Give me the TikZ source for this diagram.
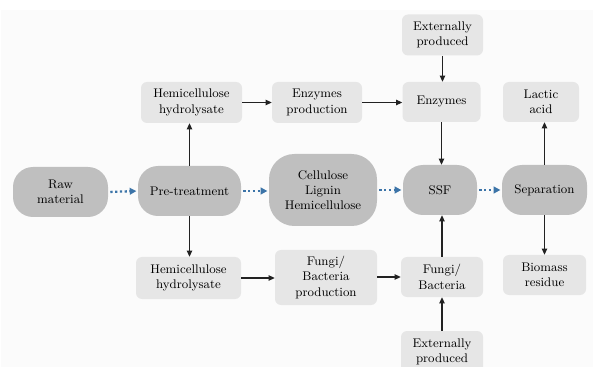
\documentclass[tikz,border=0pt]{standalone}
\usetikzlibrary{arrows.meta}
\definecolor{darkbox}{HTML}{BFBFBF}
\definecolor{lightbox}{HTML}{E6E6E6}
\definecolor{bgc}{HTML}{FBFBFB}
\definecolor{dotblue}{HTML}{3C74A8}
\definecolor{linec}{HTML}{222222}
\begin{document}
\begin{tikzpicture}[x=0.75pt,y=-0.75pt,
  txt/.style={font=\fontsize{9.4}{11.5}\selectfont, align=center, inner sep=0pt, text=black},
  sz/.style 2 args={minimum width=#1*0.75pt, minimum height=#2*0.75pt},
  darknode/.style={txt, fill=darkbox, draw=none, rounded corners=15pt},
  lightnode/.style={txt, fill=lightbox, draw=none, rounded corners=4.5pt},
  arr/.style={draw=linec, line width=0.8pt, -{Triangle[length=4.5pt,width=4pt]}},
  dotarr/.style={draw=dotblue, line width=1.7pt, dash pattern=on 1.7pt off 1.9pt,
     -{Triangle[length=5pt,width=5pt]}, shorten <=1.5pt, shorten >=1pt}]
\useasboundingbox (0,0) rectangle (593,367);
\fill[bgc] (1,10) rectangle (593,367);
% main row
\node[darknode, sz={95}{50}] (raw) at (60.5,192) {Raw\\material};
\node[darknode, sz={103}{50}] (pre) at (189.5,191) {Pre-treatment};
\node[darknode, sz={108}{72}, rounded corners=19pt] (cell) at (323,190) {Cellulose\\Lignin\\Hemicellulose};
\node[darknode, sz={74}{50}] (ssf) at (440,190) {SSF};
\node[darknode, sz={85}{50}] (sep) at (544.5,190) {Separation};
% top row
\node[lightnode, sz={101}{41}] (hemT) at (191.5,102.5) {Hemicellulose\\hydrolysate};
\node[lightnode, sz={90}{41}] (enzP) at (317,102.5) {Enzymes\\production};
\node[lightnode, sz={78}{40}] (enz) at (441.5,102) {Enzymes};
\node[lightnode, sz={81}{41}] (extT) at (442.5,35) {Externally\\produced};
\node[lightnode, sz={76}{40}] (lac) at (541,102) {Lactic\\acid};
% bottom row
\node[lightnode, sz={105}{42}] (hemB) at (188.5,278) {Hemicellulose\\hydrolysate};
\node[lightnode, sz={102}{55}] (fungP) at (326,277.5) {Fungi/\\Bacteria\\production};
\node[lightnode, sz={82}{40}] (fung) at (442,277) {Fungi/\\Bacteria};
\node[lightnode, sz={82}{42}] (extB) at (442,352) {Externally\\produced};
\node[lightnode, sz={83}{40}] (bio) at (544.5,275) {Biomass\\residue};
% dotted flow
\draw[dotarr] (raw.east) -- (pre.west);
\draw[dotarr] (pre.east) -- (cell.west |- pre.east);
\draw[dotarr] (cell.east |- ssf.west) -- (ssf.west);
\draw[dotarr] (ssf.east) -- (sep.west);
% black arrows
\draw[arr] (pre.north) -- (pre.north |- hemT.south);
\draw[arr] (pre.south) -- (pre.south |- hemB.north);
\draw[arr] (hemT.east) -- (enzP.west);
\draw[arr] (enzP.east) -- (enz.west |- enzP.east);
\draw[arr] (extT.south) -- (extT.south |- enz.north);
\draw[arr] (enz.south) -- (enz.south |- ssf.north);
\draw[arr] (fung.north) -- (fung.north |- ssf.south);
\draw[arr] (extB.north) -- (fung.south);
\draw[arr] (hemB.east) -- (fungP.west |- hemB.east);
\draw[arr] (fungP.east |- fung.west) -- (fung.west);
\draw[arr] (sep.north) -- (sep.north |- lac.south);
\draw[arr] (sep.south) -- (sep.south |- bio.north);
\end{tikzpicture}
\end{document}
